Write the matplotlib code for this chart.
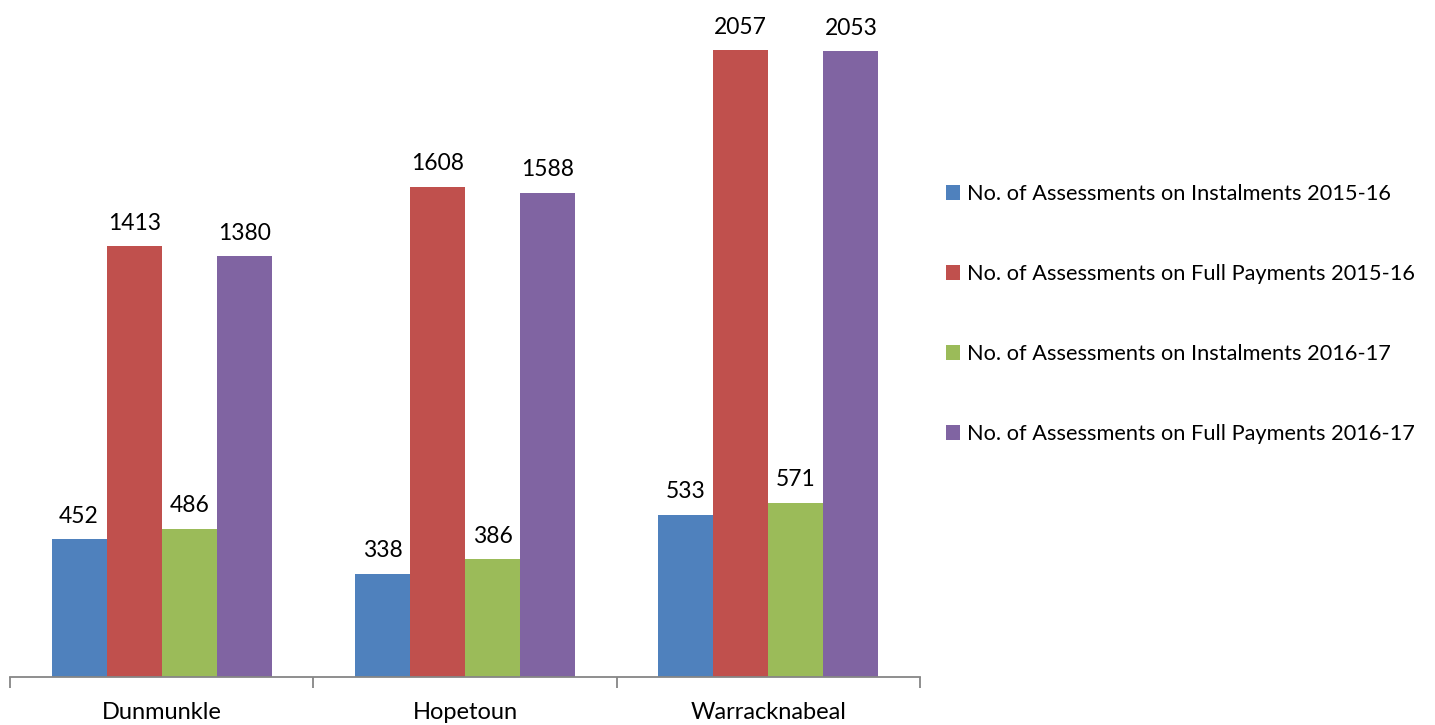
import matplotlib
matplotlib.use("Agg")
import matplotlib.pyplot as plt
from matplotlib.patches import Patch
import numpy as np

categories = ["Dunmunkle", "Hopetoun", "Warracknabeal"]
series_names = [
    "No. of Assessments on Instalments 2015-16",
    "No. of Assessments on Full Payments 2015-16",
    "No. of Assessments on Instalments 2016-17",
    "No. of Assessments on Full Payments 2016-17",
]
inst_2015 = [452, 338, 533]
full_2015 = [1413, 1608, 2057]
inst_2016 = [486, 386, 571]
full_2016 = [1380, 1588, 2053]
series_values = [inst_2015, full_2015, inst_2016, full_2016]
colors = ["#4F81BD", "#C0504D", "#9BBB59", "#8064A2"]

plt.rcParams['font.family'] = ['Lato', 'DejaVu Sans']

fig = plt.figure(figsize=(14.35, 7.25), dpi=100)
ax = fig.add_axes([10/1435, 1 - 677/725, 910/1435, 677/725])

x = np.arange(len(categories))
w = 55/303
for i, (vals, c) in enumerate(zip(series_values, colors)):
    bars = ax.bar(x + (i - 1.5) * w, vals, width=w, color=c, zorder=2)
    for b, v in zip(bars, vals):
        ax.annotate(str(v), (b.get_x() + b.get_width()/2, v), xytext=(0, 9),
                    textcoords="offset points", ha="center", va="bottom",
                    fontsize=16.5, color="black")

ax.set_xlim(-0.5, 2.5)
ax.set_ylim(0, 2057 * 677 / 627)
for s in ["top", "right", "left"]:
    ax.spines[s].set_visible(False)
ax.spines["bottom"].set_color("#868686")
ax.spines["bottom"].set_linewidth(1.3)
ax.set_yticks([])
ax.set_xticks(x)
ax.set_xticklabels(categories, fontsize=17)
ax.tick_params(axis="x", which="major", length=0, pad=18)
ax.set_xticks([-0.5, 0.5, 1.5, 2.5], minor=True)
ax.tick_params(axis="x", which="minor", length=8, width=1.3, color="#868686")

handles = [Patch(facecolor=c, edgecolor="none") for c in colors]
fig.legend(handles, series_names, loc="upper left", bbox_to_anchor=(946/1435, 1 - 184/725),
           frameon=False, fontsize=15.7, handlelength=0.65, handleheight=0.65,
           handletextpad=0.3, labelspacing=2.75, borderaxespad=0, borderpad=0)

fig.savefig("out.png", dpi=100)
